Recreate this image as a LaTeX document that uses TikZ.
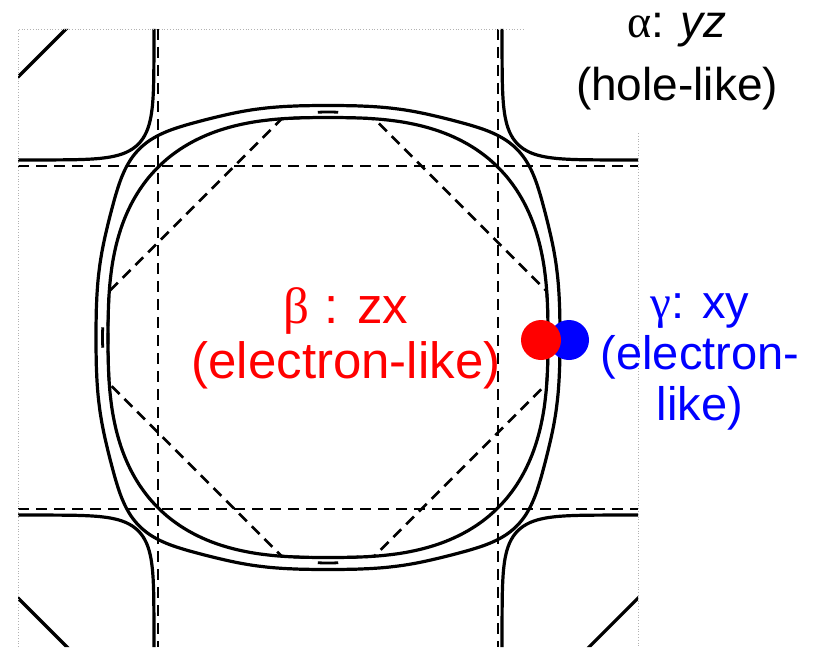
\documentclass[tikz,border=0pt]{standalone}
\usepackage{fontspec}
\setmainfont{Liberation Sans}
\newfontfamily\greekfont{Liberation Serif}
\usetikzlibrary{positioning}
\definecolor{Red}{HTML}{FF0000}
\definecolor{Blue}{HTML}{0000FF}

\begin{document}
\begin{tikzpicture}[x=0.5pt,y=-0.5pt,
    fs/.style={line width=1.6pt,line join=round},
    zone/.style={line width=1.4pt,dash pattern=on 5.5pt off 3.5pt},
    dot/.style={circle,inner sep=0pt,minimum size=20pt}]
  \useasboundingbox (0,0) rectangle (817,647);
  \begin{scope}
    \clip (18,29) -- (525,29) -- (525,133) -- (638,133) -- (638,647) -- (18,647) -- cycle;
    % zone boundaries
    \draw[zone] (158,29) -- (158,647);
    \draw[zone] (498,29) -- (498,647);
    \draw[zone] (18,166) -- (638,166);
    \draw[zone] (18,509) -- (638,509);
    % rounded diamond
    \draw[zone,shift={(328,337.5)}] plot[domain=0:360,samples=361]
      (\x:{min(265/(abs(cos(\x))+abs(sin(\x))),220/(pow(abs(cos(\x))+0.0001,2.7)+pow(abs(sin(\x))+0.0001,2.7))^(1/2.7))});
    \foreach \ta/\tb in {-2.6/2.6,87.4/92.6,177.4/182.6,267.4/272.6}
      \draw[line width=1.4pt,shift={(328,337.5)}] plot[domain=\ta:\tb,samples=6] (\x:225.5);
    % beta and gamma sheets
    \draw[fs,shift={(328,337.5)}] plot[domain=0:358,samples=180,smooth cycle]
      (\x:{220/(pow(abs(cos(\x))+0.0001,2.7)+pow(abs(sin(\x))+0.0001,2.7))^(1/2.7)});
    \draw[fs,shift={(328,337.5)}] plot[domain=0:359,samples=360,smooth cycle]
      (\x:{232/(pow(abs(cos(\x))+0.0001,2.7)+pow(abs(sin(\x))+0.0001,2.7))^(1/2.7)+13*pow(abs(sin(2*\x))+0.0001,12)});
    % alpha sheets at the corners
    \foreach \cx/\cy in {-12/-6,668/-6,-12/681,668/681}{
      \draw[fs,shift={(\cx,\cy)}] plot[domain=0:359,samples=360,smooth cycle]
        (\x:{166/(pow(abs(cos(\x))+0.0001,7)+pow(abs(sin(\x))+0.0001,7))^(1/7)});
      \draw[fs] (\cx,\cy) ++(113,0) -- ++(-113,113) -- ++(-113,-113) -- ++(113,-113) -- cycle;
    }
  \end{scope}
  % edge of the scan
  \draw[gray!60,line width=0.4pt,densely dotted] (18,647) -- (18,29) -- (525,29);
  \draw[gray!60,line width=0.4pt,densely dotted] (638,133) -- (638,647);

  \node[dot,fill=Blue] (gdot) at (569,340) {};
  \node[dot,fill=Red] (bdot) at (541,340) {};

  \node[font=\fontsize{23}{31.5}\selectfont,align=center,anchor=base] (alpha) at (677,100) {{\greekfont α}: \textit{yz}\\(hole-like)};
  \node[text=Red,font=\fontsize{25.5}{27.5}\selectfont,align=center,anchor=base] (beta) at (346,378) {{\greekfont β} : zx\\(electron-like)};
  \node[text=Blue,font=\fontsize{23.5}{25.5}\selectfont,align=center,anchor=base] (gamma) at (700,420) {{\greekfont γ}: xy\\(electron-\\like)};
\end{tikzpicture}
\end{document}
